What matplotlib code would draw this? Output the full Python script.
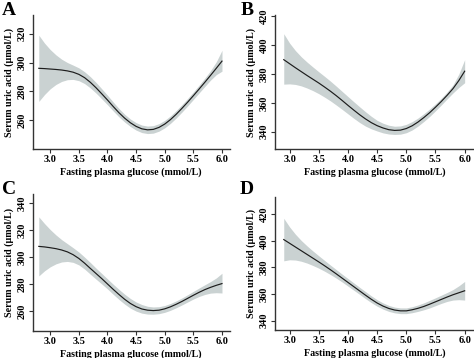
import matplotlib
matplotlib.use("Agg")
import matplotlib.pyplot as plt
import numpy as np

plt.rc('font', family=['Liberation Serif', 'DejaVu Serif'], weight='bold', size=8)

# fasting plasma glucose grid (mmol/L)
x_ac = [2.8, 2.9, 3.0, 3.1, 3.2, 3.3, 3.4, 3.5, 3.6, 3.7, 3.8, 3.9, 4.0, 4.1, 4.2, 4.3, 4.4,
        4.5, 4.6, 4.7, 4.8, 4.9, 5.0, 5.1, 5.2, 5.3, 5.4, 5.5, 5.6, 5.7, 5.8, 5.9, 6.0]
x_bd = x_ac[1:]

# serum uric acid fit and 95% CI (umol/L)
a_fit = [296, 295.8, 295.5, 295.2, 294.8, 294.2, 293.3, 291.8, 289.5, 286.3, 282.5, 278.3, 274,
         269.5, 265.2, 261.4, 258.2, 255.7, 254, 253.3, 253.6, 255, 257.3, 260.4, 264.1, 268.2,
         272.5, 277, 281.6, 286.3, 291.1, 296, 301]
a_hi = [319, 313.5, 309, 305.3, 302.3, 300, 298.2, 296.3, 293.6, 290.2, 286.2, 281.8, 277.3,
        272.6, 268.1, 264.1, 260.8, 258.3, 256.6, 255.9, 256.2, 257.6, 259.9, 263, 266.7, 270.8,
        275.1, 279.6, 284.3, 289.2, 294.4, 300.5, 308.5]
a_lo = [273, 277.8, 281.8, 284.8, 286.9, 288.1, 288.3, 287.4, 285.4, 282.4, 278.8, 274.8, 270.7,
        266.4, 262.3, 258.7, 255.6, 253.1, 251.4, 250.7, 251, 252.4, 254.7, 257.8, 261.5, 265.6,
        269.9, 274.4, 278.9, 283.4, 287.8, 291.6, 294]

b_fit = [390, 387.2, 384.4, 381.7, 379, 376.4, 373.8, 371, 368.1, 365, 361.7, 358.3, 355,
         351.8, 348.9, 346.3, 344.2, 342.6, 341.4, 340.9, 341.1, 342.2, 344.1, 346.7, 349.8,
         353.2, 357, 361, 365.3, 369.9, 375.5, 382]
b_hi = [408, 401.5, 396.3, 392, 388.3, 384.9, 381.6, 378.4, 375.1, 371.6, 368, 364.4, 360.8,
        357.3, 353.9, 350.7, 347.9, 345.9, 344.5, 343.8, 344, 345.1, 347, 349.5, 352.5, 355.8,
        359.4, 363.3, 367.6, 372.5, 380, 390]
b_lo = [373, 373.2, 372.8, 371.8, 370.3, 368.5, 366.4, 364, 361.4, 358.5, 355.5, 352.4, 349.3,
        346.4, 343.9, 342, 340.5, 339.2, 338.4, 338.1, 338.3, 339.3, 341.2, 343.9, 347.1,
        350.6, 354.5, 358.6, 362.8, 366.9, 370.7, 374]

c_fit = [308, 307.6, 307, 306.3, 305.3, 303.9, 301.8, 299, 295.5, 291.6, 287.8, 284, 280, 276,
         272.2, 268.6, 265.5, 263.1, 261.4, 260.5, 260.2, 260.5, 261.5, 263, 264.9, 267, 269.3,
         271.6, 273.8, 275.8, 277.5, 279, 280.3]
c_hi = [330, 325, 320.5, 316.5, 313, 310, 307, 303.8, 300, 296, 291.8, 287.8, 283.8, 279.8,
        276, 272.4, 269.2, 266.6, 264.7, 263.4, 262.9, 263.1, 264, 265.5, 267.4, 269.6, 272,
        274.5, 277, 279.4, 281.8, 284.5, 288]
c_lo = [286, 289.8, 292.8, 295, 296.4, 296.8, 296.1, 294.2, 291.1, 287.3, 283.6, 280, 276.3,
        272.3, 268.5, 265, 262, 259.8, 258.3, 257.6, 257.5, 257.9, 258.9, 260.4, 262.3, 264.4,
        266.6, 268.8, 270.7, 272.2, 273.2, 273.5, 273.3]

d_fit = [401, 398.2, 395.4, 392.6, 389.8, 387, 384.2, 381.3, 378.3, 375.2, 372, 368.8, 365.6,
         362.4, 359.2, 356.1, 353.3, 351, 349.2, 348, 347.4, 347.4, 348.2, 349.3, 350.7, 352.4,
         354.2, 356, 357.8, 359.5, 361, 362.5]
d_hi = [417, 410.5, 405, 400.3, 396.2, 392.4, 388.8, 385.3, 381.8, 378.4, 375, 371.7, 368.4,
        365.1, 361.9, 358.7, 355.8, 353.4, 351.5, 350.2, 349.6, 349.6, 350.5, 351.8, 353.4,
        355.3, 357.2, 359.2, 361.2, 363.4, 366.2, 369.5]
d_lo = [385, 385.8, 385.6, 384.7, 383.3, 381.5, 379.5, 377.2, 374.7, 372, 369.1, 366, 362.9,
        359.8, 356.6, 353.6, 350.9, 348.7, 347, 345.9, 345.3, 345.3, 346, 347, 348.2, 349.6,
        351.3, 353, 354.5, 355.5, 355.8, 355.5]

xticks = [3.0, 3.5, 4.0, 4.5, 5.0, 5.5, 6.0]
yticks_a = [260, 280, 300, 320]
yticks_b = [340, 360, 380, 400, 420]
yticks_c = [260, 280, 300, 320, 340]
yticks_d = [340, 360, 380, 400, 420]

W, H = 474, 358
panels = [
    ('A', x_ac, a_fit, a_lo, a_hi, yticks_a, (2.69, 6.14), (240, 333), (32.5, 15, 230, 149), (2, 2)),
    ('B', x_bd, b_fit, b_lo, b_hi, yticks_b, (2.75, 6.16), (328, 421), (275, 15, 474, 149), (241, 2)),
    ('C', x_ac, c_fit, c_lo, c_hi, yticks_c, (2.69, 6.14), (245, 347), (32.5, 194, 230, 331), (2, 181)),
    ('D', x_bd, d_fit, d_lo, d_hi, yticks_d, (2.75, 6.16), (333, 433), (275, 197, 474, 330), (240, 181)),
]

fig = plt.figure(figsize=(W / 100, H / 100), dpi=100)

for letter, xs, fit, lo, hi, yt, xl, yl, box, lp in panels:
    l, t, r, b = box
    ax = fig.add_axes([l / W, 1 - b / H, (r - l) / W, (b - t) / H])
    ax.fill_between(xs, lo, hi, color='#cad2d2', lw=0)
    ax.plot(xs, fit, color='#1c1c1c', lw=0.85)
    ax.set_xlim(*xl)
    ax.set_ylim(*yl)
    ax.set_xticks(xticks)
    ax.set_xticklabels(['%.1f' % v for v in xticks])
    ax.set_yticks(yt)
    ax.set_yticklabels([str(v) for v in yt], rotation=90, va='center')
    for s in ['top', 'right']:
        ax.spines[s].set_visible(False)
    for s in ['left', 'bottom']:
        ax.spines[s].set_color('#333333')
        ax.spines[s].set_linewidth(1.0)
    ax.tick_params(direction='out', length=3, width=0.8, color='#333333', pad=1.5, labelsize=7.5)
    ax.set_xlabel('Fasting plasma glucose (mmol/L)', fontsize=7.2, fontweight='bold', labelpad=2.5)
    ax.set_ylabel('Serum uric acid (\u03bcmol/L)', fontsize=7.2, fontweight='bold', labelpad=2.5)
    fig.text(lp[0] / W, 1 - lp[1] / H, letter, fontsize=14, fontweight='bold', va='top', ha='left')

fig.savefig('out.png', dpi=100)
